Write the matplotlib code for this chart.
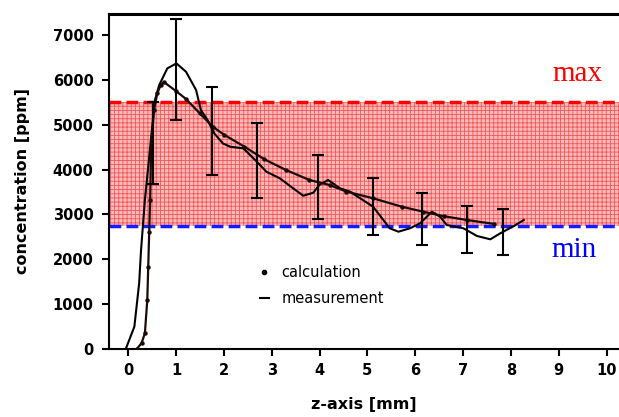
import matplotlib
matplotlib.use("Agg")
import matplotlib.pyplot as plt
from matplotlib.lines import Line2D

plt.rcParams['hatch.linewidth'] = 0.6

# calculation curve
calc_x = [0.18, 0.28, 0.35, 0.40, 0.42, 0.44, 0.46, 0.48, 0.54, 0.61, 0.68, 0.75, 1.0, 1.21,
          1.5, 1.77, 2.0, 2.43, 2.85, 3.3, 3.79, 4.21, 4.56, 5.12, 5.72, 6.17, 6.6, 7.08, 7.64]
calc_y = [0, 130, 350, 1090, 1830, 2600, 3320, 4440, 5330, 5700, 5885, 5950, 5750, 5573,
          5250, 4955, 4780, 4510, 4228, 3990, 3767, 3656, 3510, 3360, 3172, 3060, 2960, 2876, 2790]

# measurement curve
meas_x = [-0.05, 0.13, 0.23, 0.27, 0.35, 0.42, 0.49, 0.56, 0.65, 0.82, 1.01, 1.21, 1.42, 1.52,
          1.66, 1.80, 1.98, 2.13, 2.41, 2.69, 2.89, 3.17, 3.45, 3.66, 3.87, 4.0, 4.18, 4.43,
          4.64, 5.12, 5.47, 5.65, 5.89, 6.10, 6.35, 6.52, 6.66, 7.01, 7.29, 7.57, 7.78, 8.06, 8.27]
meas_y = [0, 497, 1463, 2207, 3320, 4060, 4815, 5550, 5885, 6257, 6366, 6180, 5774, 5328,
          5105, 4808, 4583, 4510, 4472, 4175, 3952, 3805, 3582, 3417, 3484, 3660, 3767, 3582,
          3506, 3172, 2690, 2615, 2690, 2800, 3060, 2950, 2764, 2690, 2520, 2445, 2580, 2740, 2875]

# error bars
err_x = [0.52, 1.0, 1.75, 2.70, 3.97, 5.11, 6.15, 7.08, 7.83]
err_y = [4595, 6230, 4860, 4209, 3608, 3173, 2894, 2664, 2600]
err_e = [918, 1125, 970, 836, 717, 632, 576, 531, 512]

band_min = 2750
band_max = 5500

xticks = list(range(0, 11))
yticks = list(range(0, 8000, 1000))

fig = plt.figure(figsize=(6.19, 4.17), dpi=100)
ax = fig.add_axes([109/619, 1 - 349/417, 1 - 109/619, (349 - 14)/417])

ax.axhspan(band_min, band_max, facecolor='#fcbaba', hatch='++++', edgecolor='#f25656',
           linewidth=0, zorder=0)
ax.axhline(band_max, color='#ff0000', ls=(0, (3.4, 1.5)), lw=2.5, zorder=1)
ax.axhline(band_min, color='#1a1aff', ls=(0, (3.4, 1.5)), lw=2.5, zorder=1)

ax.plot(meas_x, meas_y, color='black', lw=1.5, zorder=3)
ax.plot(calc_x, calc_y, color='#1a0a0a', lw=1.6, marker='o', ms=2.2, zorder=3)
ax.errorbar(err_x, err_y, yerr=err_e, fmt='none', ecolor='black', elinewidth=1.5,
            capsize=4, capthick=1.5, zorder=4)

ax.text(8.86, 5974, 'max', color='#ff0000', fontsize=21, family='Liberation Serif',
        va='baseline', ha='left')
ax.text(8.85, 2051, 'min', color='#0000ff', fontsize=21, family='Liberation Serif',
        va='baseline', ha='left')

handles = [Line2D([], [], color='black', marker='o', ms=3, ls='none'),
           Line2D([], [], color='black', lw=1.5)]
ax.legend(handles, ['calculation', 'measurement'], loc='upper left',
          bbox_to_anchor=(0.27, 0.29), frameon=False, handlelength=0.6,
          handletextpad=0.9, labelspacing=0.75, fontsize=10.5)

ax.set_xlim(-0.40, 10.26)
ax.set_ylim(0, 7468)
ax.set_xticks(xticks)
ax.set_yticks(yticks)
ax.tick_params(direction='out', length=5, width=1.5, labelsize=10.5, pad=5)
ax.tick_params(axis='y', pad=6)
for lab in ax.get_xticklabels() + ax.get_yticklabels():
    lab.set_fontweight('bold')

ax.spines['right'].set_visible(False)
ax.spines['left'].set_linewidth(1.5)
ax.spines['bottom'].set_linewidth(1.5)
ax.spines['top'].set_linewidth(2.2)

ax.set_xlabel('z-axis [mm]', fontsize=11.5, fontweight='bold', labelpad=14)
ax.set_ylabel('concentration [ppm]', fontsize=11.5, fontweight='bold', labelpad=16)

fig.savefig('out.png', dpi=100)
